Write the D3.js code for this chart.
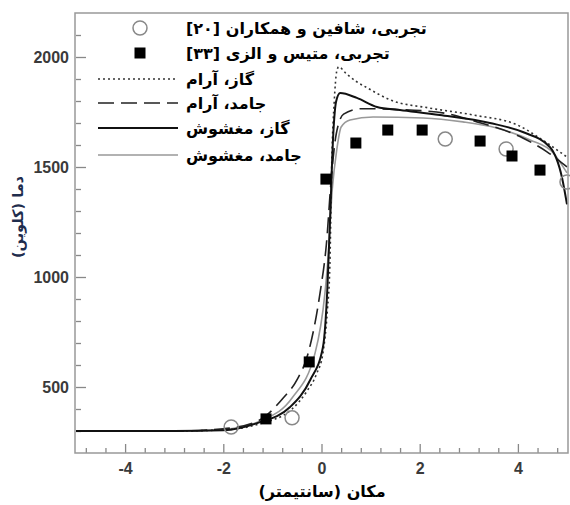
<!DOCTYPE html>
<html>
<head>
<meta charset="utf-8">
<script src="https://cdn.jsdelivr.net/npm/d3@7"></script>
<style>
  body { margin: 0; background: #fff; }
  text { font-family: "Liberation Sans", Arial, sans-serif; }
  .fa { font-family: "DejaVu Sans", sans-serif; font-weight: bold; direction: rtl; unicode-bidi: embed; }
</style>
</head>
<body>
<div id="chart"></div>
<script>
// داده ها (x: cm, T: K)
var gasLaminar = [[-5,300],[-3,300],[-2,305],[-1.3,330],[-0.6,400],[-0.3,480],[-0.1,560],[0.03,655],[0.12,850],[0.17,1050],[0.21,1530],[0.26,1800],[0.31,1935],[0.35,1955],[0.5,1925],[0.7,1890],[0.93,1860],[1.4,1805],[2.2,1768],[3.1,1736],[4.0,1690],[4.5,1623],[5,1545]];
var solidLaminar = [[-5,300],[-3,300],[-2,310],[-1.3,345],[-0.78,450],[-0.5,532],[-0.27,655],[-0.03,927],[0.1,1150],[0.2,1450],[0.3,1650],[0.45,1740],[0.8,1765],[1.5,1762],[2.5,1745],[3.17,1705],[4.1,1632],[4.6,1568],[5,1500]];
var gasTurb = [[-5,300],[-3,300],[-2,303],[-1.31,336],[-0.64,409],[-0.23,532],[0.03,682],[0.12,950],[0.18,1300],[0.24,1650],[0.3,1800],[0.38,1836],[0.72,1814],[1.13,1773],[1.6,1759],[2.41,1736],[3.43,1700],[4.1,1659],[4.65,1591],[4.9,1450],[5,1330]];
var solidTurb = [[-5,300],[-3,300],[-2,307],[-1.2,350],[-0.6,450],[-0.13,655],[0.07,927],[0.13,1077],[0.22,1400],[0.31,1577],[0.4,1682],[0.58,1714],[1.05,1727],[2.07,1723],[2.88,1705],[3.57,1677],[4.25,1623],[4.72,1564],[5,1473]];

var expShaffin = [[-1.84,318],[-0.6,360],[2.52,1627],[3.76,1582],[5.0,1432]];
var expMattis = [[-1.13,355],[-0.25,614],[0.09,1445],[0.7,1609],[1.35,1668],[2.05,1668],[3.23,1618],[3.88,1550],[4.45,1486]];

var xMajor = [-4,-2,0,2,4];
var xMinor = [-4.8,-4.4,-3.6,-3.2,-2.8,-2.4,-1.6,-1.2,-0.8,-0.4,0.4,0.8,1.2,1.6,2.4,2.8,3.2,3.6,4.4,4.8];
var yMajor = [500,1000,1500,2000];
var yMinor = [300,400,600,700,800,900,1100,1200,1300,1400,1600,1700,1800,1900,2100];

var legendLabels = ["تجربی، شافین و همکاران [۲۰]","تجربی، متیس و الزی [۳۳]","گاز، آرام","جامد، آرام","گاز، مغشوش","جامد، مغشوش"];

var width = 570, height = 505;
var pLeft = 76, pRight = 567, pTop = 13, pBottom = 453;

var svg = d3.select("#chart").append("svg")
    .attr("width", width)
    .attr("height", height);

var x = d3.scaleLinear().domain([-5, 5]).range([pLeft, pRight]);
var y = d3.scaleLinear().domain([200, 2200]).range([pBottom, pTop]);

svg.append("defs").append("clipPath").attr("id", "clip")
    .append("rect")
    .attr("x", pLeft).attr("y", pTop)
    .attr("width", pRight - pLeft + 1).attr("height", pBottom - pTop);

// محورها
function styleAxis(g) {
    g.select(".domain").remove();
    g.selectAll(".tick line").attr("stroke", "#888").attr("stroke-width", 1.3);
    g.selectAll(".tick text").attr("fill", "#3a3a3a").style("font-size", "16px").style("font-weight", "bold");
}
var fmt = function(d) { return String(d); };

svg.append("g")
    .attr("transform", "translate(" + pLeft + ",0)")
    .call(d3.axisLeft(y).tickValues(yMinor).tickSize(-5).tickFormat(""))
    .call(styleAxis);
svg.append("g")
    .attr("transform", "translate(" + pLeft + ",0)")
    .call(d3.axisLeft(y).tickValues(yMajor).tickSize(-10).tickPadding(7).tickFormat(fmt))
    .call(styleAxis);

svg.append("g")
    .attr("transform", "translate(0," + pBottom + ")")
    .call(d3.axisBottom(x).tickValues(xMinor).tickSize(-5).tickFormat(""))
    .call(styleAxis);
svg.append("g")
    .attr("transform", "translate(0," + pBottom + ")")
    .call(d3.axisBottom(x).tickValues(xMajor).tickSize(-9).tickPadding(10).tickFormat(fmt))
    .call(styleAxis);

// خطوط
var line = d3.line()
    .x(function(d) { return x(d[0]); })
    .y(function(d) { return y(d[1]); })
    .curve(d3.curveMonotoneX);

var series = [
    { data: solidTurb, color: "#999", width: 1.6, dash: null },
    { data: solidLaminar, color: "#222", width: 1.6, dash: "16,7" },
    { data: gasLaminar, color: "#333", width: 1.6, dash: "2,3" },
    { data: gasTurb, color: "#111", width: 2, dash: null }
];

var plot = svg.append("g").attr("clip-path", "url(#clip)");

plot.selectAll("path.series")
    .data(series)
    .enter().append("path")
    .attr("class", "series")
    .attr("d", function(d) { return line(d.data); })
    .attr("fill", "none")
    .attr("stroke", function(d) { return d.color; })
    .attr("stroke-width", function(d) { return d.width; })
    .attr("stroke-dasharray", function(d) { return d.dash; });

svg.selectAll("circle.exp")
    .data(expShaffin)
    .enter().append("circle")
    .attr("class", "exp")
    .attr("cx", function(d) { return x(d[0]); })
    .attr("cy", function(d) { return y(d[1]); })
    .attr("r", 7)
    .attr("fill", "none")
    .attr("stroke", "#888")
    .attr("stroke-width", 1.5);

svg.selectAll("rect.exp")
    .data(expMattis)
    .enter().append("rect")
    .attr("class", "exp")
    .attr("x", function(d) { return x(d[0]) - 5.5; })
    .attr("y", function(d) { return y(d[1]) - 5.5; })
    .attr("width", 11)
    .attr("height", 11)
    .attr("fill", "#000");

// قاب
svg.append("rect")
    .attr("x", 75).attr("y", pTop)
    .attr("width", 568 - 75).attr("height", pBottom - pTop)
    .attr("fill", "none")
    .attr("stroke", "#999")
    .attr("stroke-width", 1.5);

// راهنما
var legY = [28, 53, 79, 103, 128, 155];
var leg = svg.append("g");

leg.append("circle")
    .attr("cx", 140).attr("cy", legY[0]).attr("r", 7)
    .attr("fill", "none").attr("stroke", "#888").attr("stroke-width", 1.5);
leg.append("rect")
    .attr("x", 134.5).attr("y", legY[1] - 5.5).attr("width", 11).attr("height", 11)
    .attr("fill", "#000");

var legLines = [series[2], series[1], series[3], series[0]];
leg.selectAll("line")
    .data(legLines)
    .enter().append("line")
    .attr("x1", 98).attr("x2", 178)
    .attr("y1", function(d, i) { return legY[i + 2]; })
    .attr("y2", function(d, i) { return legY[i + 2]; })
    .attr("stroke", function(d) { return d.color; })
    .attr("stroke-width", function(d) { return d.width; })
    .attr("stroke-dasharray", function(d) { return d.dash; });

leg.selectAll("text")
    .data(legendLabels)
    .enter().append("text")
    .attr("class", "fa")
    .attr("x", 186)
    .attr("y", function(d, i) { return legY[i] + 6; })
    .attr("text-anchor", "end")
    .style("font-size", "16px")
    .attr("fill", "#000")
    .text(function(d) { return d; });

// عنوان محورها
svg.append("text")
    .attr("class", "fa")
    .attr("x", 322).attr("y", 497)
    .attr("text-anchor", "middle")
    .style("font-size", "16px")
    .text("مکان (سانتیمتر)");

svg.append("text")
    .attr("class", "fa")
    .attr("transform", "translate(23,217) rotate(-90)")
    .attr("text-anchor", "middle")
    .style("font-size", "14.5px")
    .attr("fill", "#1f2d4d")
    .text("دما (کلوین)");
</script>
</body>
</html>
